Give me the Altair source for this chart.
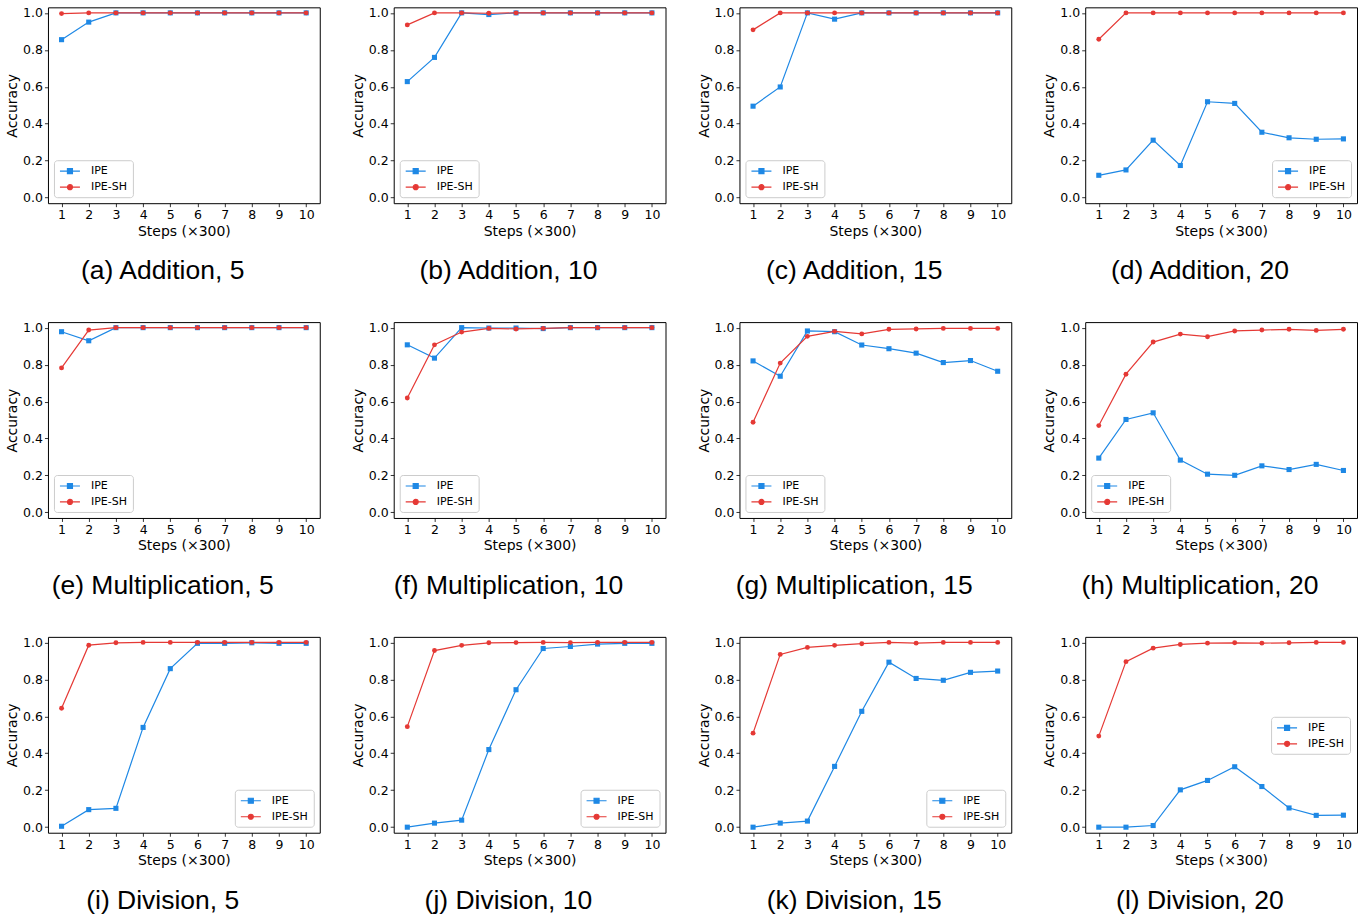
import altair as alt
import pandas as pd

STEPS = [1, 2, 3, 4, 5, 6, 7, 8, 9, 10]
SERIES = ["IPE", "IPE-SH"]
COLORS = ["#1E88E5", "#E53935"]

# Addition
ADD5_IPE = [0.855, 0.950, 1.0, 1.0, 1.0, 1.0, 1.0, 1.0, 1.0, 1.0]
ADD5_SH = [0.996, 1.0, 1.0, 1.0, 1.0, 1.0, 1.0, 1.0, 1.0, 1.0]
ADD10_IPE = [0.628, 0.759, 1.0, 0.991, 1.0, 1.0, 1.0, 1.0, 1.0, 1.0]
ADD10_SH = [0.935, 1.0, 1.0, 0.998, 1.0, 1.0, 1.0, 1.0, 1.0, 1.0]
ADD15_IPE = [0.495, 0.599, 1.0, 0.966, 1.0, 1.0, 1.0, 1.0, 1.0, 1.0]
ADD15_SH = [0.908, 1.0, 1.0, 1.0, 1.0, 1.0, 1.0, 1.0, 1.0, 1.0]
ADD20_IPE = [0.121, 0.150, 0.311, 0.174, 0.519, 0.510, 0.354, 0.324, 0.316, 0.318]
ADD20_SH = [0.857, 1.0, 1.0, 1.0, 1.0, 1.0, 1.0, 1.0, 1.0, 1.0]

# Multiplication
MUL5_IPE = [0.978, 0.929, 1.0, 1.0, 1.0, 1.0, 1.0, 1.0, 1.0, 1.0]
MUL5_SH = [0.782, 0.987, 1.0, 1.0, 1.0, 1.0, 1.0, 1.0, 1.0, 1.0]
MUL10_IPE = [0.907, 0.835, 1.0, 0.998, 0.998, 0.995, 1.0, 1.0, 1.0, 1.0]
MUL10_SH = [0.619, 0.907, 0.976, 0.996, 0.993, 0.996, 1.0, 1.0, 1.0, 1.0]
MUL15_IPE = [0.820, 0.737, 0.982, 0.978, 0.906, 0.886, 0.862, 0.811, 0.822, 0.764]
MUL15_SH = [0.488, 0.808, 0.953, 0.980, 0.966, 0.991, 0.993, 0.996, 0.996, 0.996]
MUL20_IPE = [0.294, 0.503, 0.539, 0.283, 0.207, 0.201, 0.252, 0.232, 0.260, 0.227]
MUL20_SH = [0.470, 0.748, 0.922, 0.965, 0.951, 0.982, 0.987, 0.991, 0.985, 0.991]

# Division
DIV5_IPE = [0.005, 0.095, 0.102, 0.540, 0.858, 0.995, 0.995, 0.998, 0.995, 0.995]
DIV5_SH = [0.644, 0.985, 0.998, 1.0, 1.0, 1.0, 1.0, 1.0, 1.0, 1.0]
DIV10_IPE = [0.0, 0.022, 0.038, 0.420, 0.744, 0.967, 0.978, 0.991, 0.995, 0.995]
DIV10_SH = [0.544, 0.956, 0.984, 0.998, 0.999, 1.0, 0.999, 1.0, 1.0, 1.0]
DIV15_IPE = [0.0, 0.022, 0.033, 0.329, 0.627, 0.893, 0.805, 0.795, 0.838, 0.845]
DIV15_SH = [0.509, 0.935, 0.973, 0.984, 0.993, 1.0, 0.996, 1.0, 1.0, 1.0]
DIV20_IPE = [0.0, 0.0, 0.009, 0.202, 0.253, 0.327, 0.220, 0.104, 0.064, 0.065]
DIV20_SH = [0.493, 0.896, 0.969, 0.989, 0.996, 0.998, 0.996, 0.998, 1.0, 1.0]

PANELS = [
    [("(a) Addition, 5", ADD5_IPE, ADD5_SH, "bottom-left"),
     ("(b) Addition, 10", ADD10_IPE, ADD10_SH, "bottom-left"),
     ("(c) Addition, 15", ADD15_IPE, ADD15_SH, "bottom-left"),
     ("(d) Addition, 20", ADD20_IPE, ADD20_SH, "bottom-right")],
    [("(e) Multiplication, 5", MUL5_IPE, MUL5_SH, "bottom-left"),
     ("(f) Multiplication, 10", MUL10_IPE, MUL10_SH, "bottom-left"),
     ("(g) Multiplication, 15", MUL15_IPE, MUL15_SH, "bottom-left"),
     ("(h) Multiplication, 20", MUL20_IPE, MUL20_SH, "bottom-left")],
    [("(i) Division, 5", DIV5_IPE, DIV5_SH, "bottom-right"),
     ("(j) Division, 10", DIV10_IPE, DIV10_SH, "bottom-right"),
     ("(k) Division, 15", DIV15_IPE, DIV15_SH, "bottom-right"),
     ("(l) Division, 20", DIV20_IPE, DIV20_SH, "none")],
]

W, H = 272, 196
TICK_FONT = "DejaVu Sans"

# legend symbols: line with a marker in its middle (custom SVG paths)
SQ_PATH = "M-1,0H3M0.5,-0.5H1.5V0.5H0.5Z"
CI_PATH = "M-1,0H3M1.5,0A0.5,0.5,0,1,1,0.5,0A0.5,0.5,0,1,1,1.5,0Z"
MARKERS = ["square", "circle"]
MARKER_SIZES = [26, 24]


def panel(caption, ipe, sh, legend_pos):
    df = pd.DataFrame({
        "step": STEPS + STEPS,
        "acc": ipe + sh,
        "series": ["IPE"] * len(STEPS) + ["IPE-SH"] * len(STEPS),
    })
    base = alt.Chart(df)
    x = alt.X("step:Q",
              scale=alt.Scale(domain=[0.5, 10.5], nice=False, zero=False),
              axis=alt.Axis(values=STEPS, title="Steps (×300)", format="d"))
    y = alt.Y("acc:Q",
              scale=alt.Scale(domain=[-0.03, 1.03], nice=False, zero=False),
              axis=alt.Axis(values=[0.0, 0.2, 0.4, 0.6, 0.8, 1.0], format=".1f",
                            title="Accuracy"))
    layers = []
    for s, col, shp, sz in zip(SERIES, COLORS, MARKERS, MARKER_SIZES):
        sub = base.transform_filter(alt.datum.series == s)
        layers.append(sub.mark_line(strokeWidth=1.2, color=col).encode(x=x, y=y))
        layers.append(sub.mark_point(shape=shp, filled=True, size=sz, opacity=1,
                                     color=col).encode(x=x, y=y))

    if legend_pos == "none":
        leg_kwargs = dict(orient="none", legendX=186, legendY=80)
    else:
        leg_kwargs = dict(orient=legend_pos, offset=6)
    legend = alt.Legend(
        title=None, labelFont=TICK_FONT, labelFontSize=11, labelColor="black",
        symbolSize=100, symbolStrokeWidth=1.2, symbolOpacity=1, labelOffset=20,
        rowPadding=5, padding=5, strokeColor="#cccccc", fillColor="white",
        cornerRadius=3, **leg_kwargs)
    leg = base.transform_filter("false").mark_point(filled=True).encode(
        x=x, y=y,
        color=alt.Color("series:N", scale=alt.Scale(domain=SERIES, range=COLORS), legend=legend),
        stroke=alt.Stroke("series:N", scale=alt.Scale(domain=SERIES, range=COLORS), legend=legend),
        shape=alt.Shape("series:N", scale=alt.Scale(domain=SERIES, range=[SQ_PATH, CI_PATH]),
                        legend=legend),
    )
    layers.append(leg)
    return alt.layer(*layers).properties(
        width=W, height=H,
        title=alt.TitleParams(text=caption, orient="bottom", anchor="middle", frame="bounds",
                              fontSize=26.5, font="Liberation Sans", fontWeight="normal",
                              color="black", offset=20),
    )


def indep(c):
    return c.resolve_scale(color="independent", stroke="independent", shape="independent"
                           ).resolve_legend(color="independent", stroke="independent",
                                            shape="independent")


rows = [indep(alt.hconcat(*[panel(*p) for p in row], spacing=30)) for row in PANELS]
chart = indep(alt.vconcat(*rows, spacing=36)).properties(
    padding={"left": 5, "top": 6, "right": 5, "bottom": 5}
).configure_view(
    stroke="black", strokeWidth=1
).configure_axis(
    grid=False, domain=False, ticks=True, tickColor="black", tickSize=3.5, tickWidth=0.8,
    labelFont=TICK_FONT, labelFontSize=12.5, labelColor="black", labelPadding=2,
    titleFont=TICK_FONT, titleFontSize=14, titleFontWeight="normal", titleColor="black",
    titlePadding=3,
)

chart.save("out.html", embed_options={"renderer": "svg", "actions": False})
